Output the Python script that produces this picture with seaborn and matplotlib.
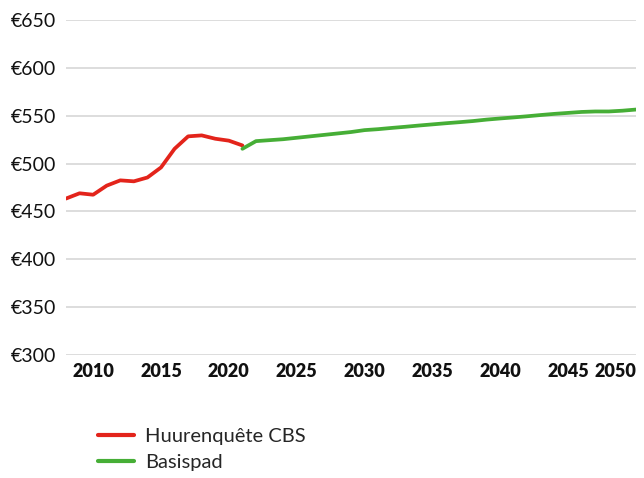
import matplotlib
matplotlib.use("Agg")
import matplotlib.pyplot as plt
import seaborn as sns
import pandas as pd

cbs_years = list(range(2008, 2022))
cbs_values = [463.5, 469, 467.5, 477, 482.5, 481.5, 485.5, 496, 515.5, 528.5, 529.5, 526, 524, 519]

basis_years = list(range(2021, 2051))
basis_values = [515.5, 523.5, 524.5, 525.5, 527, 528.5, 530, 531.5, 533, 535,
                536, 537.3, 538.5, 539.8, 541, 542.2, 543.3, 544.5, 546, 547.2,
                548.3, 549.5, 550.8, 552, 553, 554, 554.5, 554.5, 555.3, 556.5]

series_names = ["Huurenquête CBS", "Basispad"]
colors = ["#e3241b", "#46ae36"]
y_ticks = [300, 350, 400, 450, 500, 550, 600, 650]
x_ticks = [2010, 2015, 2020, 2025, 2030, 2035, 2040, 2045, 2050]

df = pd.concat([
    pd.DataFrame({"jaar": cbs_years, "huur": cbs_values, "reeks": series_names[0]}),
    pd.DataFrame({"jaar": basis_years, "huur": basis_values, "reeks": series_names[1]}),
])

sns.set_theme(style="white")
plt.rcParams["font.family"] = ["Lato", "DejaVu Sans"]

fig = plt.figure(figsize=(6.44, 4.78), dpi=100)
ax = fig.add_axes([0.1025, 0.2573, 0.885, 0.7007])

sns.lineplot(data=df, x="jaar", y="huur", hue="reeks", palette=colors,
             hue_order=series_names, linewidth=2.7, ax=ax, legend=True)

ax.set_xlim(2008, 2050)
ax.set_ylim(300, 650)
ax.set_yticks(y_ticks)
ax.set_yticklabels([f"€{v}" for v in y_ticks], fontsize=14, color="#111111")
ax.set_xticks(x_ticks)
ax.set_xticklabels([str(v) for v in x_ticks], fontsize=13, fontweight="heavy", color="#111111")
for lbl in ax.get_yticklabels():
    lbl.set_horizontalalignment("left")
ax.tick_params(axis="y", length=0, pad=40)
ax.tick_params(axis="x", length=0, pad=6)
xl = ax.get_xticklabels()
xl[-1].set_horizontalalignment("right")

ax.grid(axis="y", color="#dadada", linewidth=1.3)
ax.grid(axis="x", visible=False)
for s in ax.spines.values():
    s.set_visible(False)
ax.set_xlabel("")
ax.set_ylabel("")

handles, labels = ax.get_legend_handles_labels()
leg = ax.legend(handles, labels, loc="upper left", bbox_to_anchor=(0.025, -0.165),
                frameon=False, fontsize=14.5, handlelength=1.75, labelspacing=0.42,
                handletextpad=0.55)
for h in leg.legend_handles:
    h.set_linewidth(3)

fig.savefig("out.png", dpi=100)
